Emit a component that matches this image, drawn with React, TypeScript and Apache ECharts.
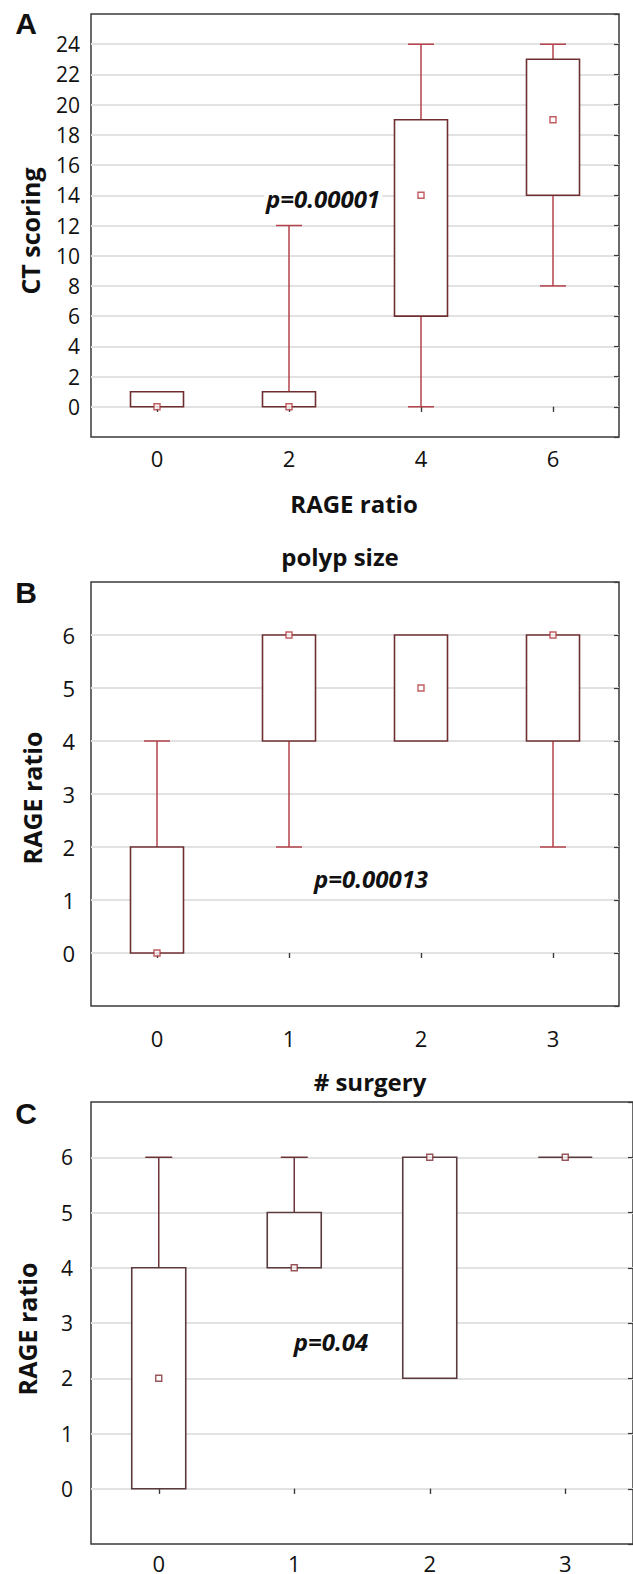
import React, { useEffect, useRef } from "react";
import * as echarts from "echarts";

// Panel A: CT scoring by RAGE ratio
const A_CATS = ["0", "2", "4", "6"];
const A_MIN = [0, 0, 0, 8];
const A_Q1 = [0, 0, 6, 14];
const A_MED = [0, 0, 14, 19];
const A_Q3 = [1, 1, 19, 23];
const A_MAX = [1, 12, 24, 24];

// Panel B: RAGE ratio by polyp size
const B_CATS = ["0", "1", "2", "3"];
const B_MIN = [0, 2, 4, 2];
const B_Q1 = [0, 4, 4, 4];
const B_MED = [0, 6, 5, 6];
const B_Q3 = [2, 6, 6, 6];
const B_MAX = [4, 6, 6, 6];

// Panel C: RAGE ratio by # surgery
const C_CATS = ["0", "1", "2", "3"];
const C_MIN = [0, 4, 2, 6];
const C_Q1 = [0, 4, 2, 6];
const C_MED = [2, 4, 6, 6];
const C_Q3 = [4, 5, 6, 6];
const C_MAX = [6, 6, 6, 6];

const FONT = "'Open Sans', 'Noto Sans', sans-serif";

type Panel = {
  cats: string[];
  min: number[];
  q1: number[];
  med: number[];
  q3: number[];
  max: number[];
  grid: { left: number; top: number; width: number; height: number };
  yMin: number;
  yMax: number;
  yInt: number;
  labMax: number;
  yLabMargin: number;
  yFont: number;
  xLabMargin: number;
  boxColor: string;
  whiskColor: string;
  medColor: string;
  boxW: number;
  capW: number;
};

const panels: Panel[] = [
  {
    cats: A_CATS, min: A_MIN, q1: A_Q1, med: A_MED, q3: A_Q3, max: A_MAX,
    grid: { left: 91, top: 14, width: 528, height: 423 },
    yMin: -2, yMax: 26, yInt: 2, labMax: 24, yLabMargin: 11, yFont: 21, xLabMargin: 10,
    boxColor: "#6e2e30", whiskColor: "#b3414a", medColor: "#b0353a", boxW: 53, capW: 26,
  },
  {
    cats: B_CATS, min: B_MIN, q1: B_Q1, med: B_MED, q3: B_Q3, max: B_MAX,
    grid: { left: 91, top: 582, width: 528, height: 424 },
    yMin: -1, yMax: 7, yInt: 1, labMax: 6, yLabMargin: 16, yFont: 22, xLabMargin: 21,
    boxColor: "#6e2e30", whiskColor: "#b3414a", medColor: "#b0353a", boxW: 53, capW: 26,
  },
  {
    cats: C_CATS, min: C_MIN, q1: C_Q1, med: C_MED, q3: C_Q3, max: C_MAX,
    grid: { left: 91, top: 1102, width: 542, height: 444 },
    yMin: -1, yMax: 7, yInt: 1, labMax: 6, yLabMargin: 18, yFont: 21, xLabMargin: 8,
    boxColor: "#5a3a3c", whiskColor: "#6c3438", medColor: "#7e2a30", boxW: 54, capW: 27,
  },
];

function buildOption() {
  const grid: any[] = [];
  const xAxis: any[] = [];
  const yAxis: any[] = [];
  const series: any[] = [];

  panels.forEach((p, i) => {
    grid.push({
      ...p.grid,
      show: true,
      borderColor: "#3a3a3a",
      borderWidth: 1.5,
      backgroundColor: "#ffffff",
      containLabel: false,
    });
    xAxis.push({
      type: "category",
      gridIndex: i,
      position: "bottom",
      data: p.cats,
      axisLine: { show: false },
      axisTick: { show: true, alignWithLabel: true, inside: false, length: 5, lineStyle: { color: "#3a3a3a", width: 1.2 } },
      axisLabel: { show: true, margin: p.xLabMargin, fontSize: 22, color: "#111", fontFamily: FONT },
      splitLine: { show: false },
    });
    xAxis.push({
      type: "category",
      gridIndex: i,
      position: "top",
      data: p.cats,
      axisLine: { show: false },
      axisTick: { show: true, alignWithLabel: true, inside: true, length: 5, lineStyle: { color: "#3a3a3a", width: 1.2 } },
      axisLabel: { show: false },
      splitLine: { show: false },
    });
    const labMax = p.labMax;
    yAxis.push({
      type: "value",
      gridIndex: i,
      position: "left",
      min: p.yMin,
      max: p.yMax,
      interval: p.yInt,
      axisLine: { show: false },
      axisTick: { show: false },
      axisLabel: {
        show: true,
        margin: p.yLabMargin,
        fontSize: p.yFont,
        color: "#111",
        fontFamily: FONT,
        formatter: (v: number) => (v < 0 || v > labMax ? "" : String(v)),
      },
      splitLine: { show: true, showMinLine: false, showMaxLine: false, lineStyle: { color: "#e2e2e2", width: 2 } },
    });
    yAxis.push({
      type: "value",
      gridIndex: i,
      position: "right",
      min: p.yMin,
      max: p.yMax,
      interval: p.yInt,
      axisLine: { show: false },
      axisTick: { show: true, inside: true, length: 5, lineStyle: { color: "#3a3a3a", width: 1.2 } },
      axisLabel: { show: false },
      splitLine: { show: false },
    });

    const data = p.cats.map((_, k) => [k, p.min[k], p.q1[k], p.med[k], p.q3[k], p.max[k]]);
    const boxW = p.boxW;
    const capW = p.capW;
    const boxColor = p.boxColor;
    const whiskColor = p.whiskColor;
    series.push({
      type: "custom",
      xAxisIndex: 2 * i,
      yAxisIndex: 2 * i,
      data,
      encode: { x: 0, y: [1, 2, 3, 4, 5] },
      z: 3,
      renderItem: (params: any, api: any) => {
        const x = api.value(0);
        const lo = api.coord([x, api.value(1)]);
        const q1 = api.coord([x, api.value(2)]);
        const q3 = api.coord([x, api.value(4)]);
        const hi = api.coord([x, api.value(5)]);
        const cx = lo[0];
        const children: any[] = [];
        const wStyle = { stroke: whiskColor, lineWidth: 1.5, fill: null };
        if (hi[1] < q3[1] - 0.5) {
          children.push({ type: "line", shape: { x1: cx, y1: q3[1], x2: cx, y2: hi[1] }, style: wStyle });
          children.push({ type: "line", shape: { x1: cx - capW / 2, y1: hi[1], x2: cx + capW / 2, y2: hi[1] }, style: wStyle });
        }
        if (lo[1] > q1[1] + 0.5) {
          children.push({ type: "line", shape: { x1: cx, y1: q1[1], x2: cx, y2: lo[1] }, style: wStyle });
          children.push({ type: "line", shape: { x1: cx - capW / 2, y1: lo[1], x2: cx + capW / 2, y2: lo[1] }, style: wStyle });
        }
        children.push({
          type: "rect",
          shape: { x: cx - boxW / 2, y: q3[1], width: boxW, height: q1[1] - q3[1] },
          style: { stroke: boxColor, lineWidth: 1.6, fill: "#ffffff" },
        });
        return { type: "group", children };
      },
      silent: true,
    });
    series.push({
      type: "scatter",
      xAxisIndex: 2 * i,
      yAxisIndex: 2 * i,
      data: p.med,
      symbol: "rect",
      symbolSize: 6,
      z: 5,
      itemStyle: { color: "#ffffff", borderColor: p.medColor, borderWidth: 1.4 },
      silent: true,
    });
  });

  const title = (text: string, x: number, y: number, opts: any = {}) => ({
    type: "text",
    x,
    y,
    z: 10,
    rotation: opts.rotation || 0,
    style: {
      text,
      fill: "#111",
      font: opts.font || `bold 24px ${FONT}`,
      textAlign: "center",
      textVerticalAlign: "middle",
      ...(opts.bg ? { backgroundColor: "#ffffff", padding: [0, 2, 0, 2] } : {}),
    },
  });

  const LETTER = "bold 30px 'Liberation Sans', Arial, sans-serif";
  const PFONT = `italic bold 24px ${FONT}`;
  const YT = `bold 25px ${FONT}`;

  const graphic = [
    title("A", 26, 23, { font: LETTER }),
    title("B", 26, 592, { font: LETTER }),
    title("C", 26, 1113, { font: LETTER }),
    title("CT scoring", 30, 231, { rotation: Math.PI / 2, font: YT }),
    title("RAGE ratio", 32, 798, { rotation: Math.PI / 2, font: YT }),
    title("RAGE ratio", 27, 1329, { rotation: Math.PI / 2, font: YT }),
    title("RAGE ratio", 354, 503),
    title("polyp size", 340, 556),
    title("# surgery", 370, 1081),
    title("p=0.00001", 323, 198, { font: PFONT, bg: true }),
    title("p=0.00013", 371, 878, { font: PFONT, bg: true }),
    title("p=0.04", 331, 1341, { font: PFONT, bg: true }),
  ];

  return {
    animation: false,
    backgroundColor: "#ffffff",
    grid,
    xAxis,
    yAxis,
    series,
    graphic,
  };
}

export default function App() {
  const ref = useRef<HTMLDivElement>(null);
  useEffect(() => {
    if (!ref.current) return;
    const chart = echarts.init(ref.current, undefined, { renderer: "svg" });
    chart.setOption(buildOption() as any);
    return () => chart.dispose();
  }, []);
  return (
    <div
      ref={ref}
      style={{ position: "absolute", left: 0, top: 0, width: 633, height: 1574, background: "#fff" }}
    />
  );
}
